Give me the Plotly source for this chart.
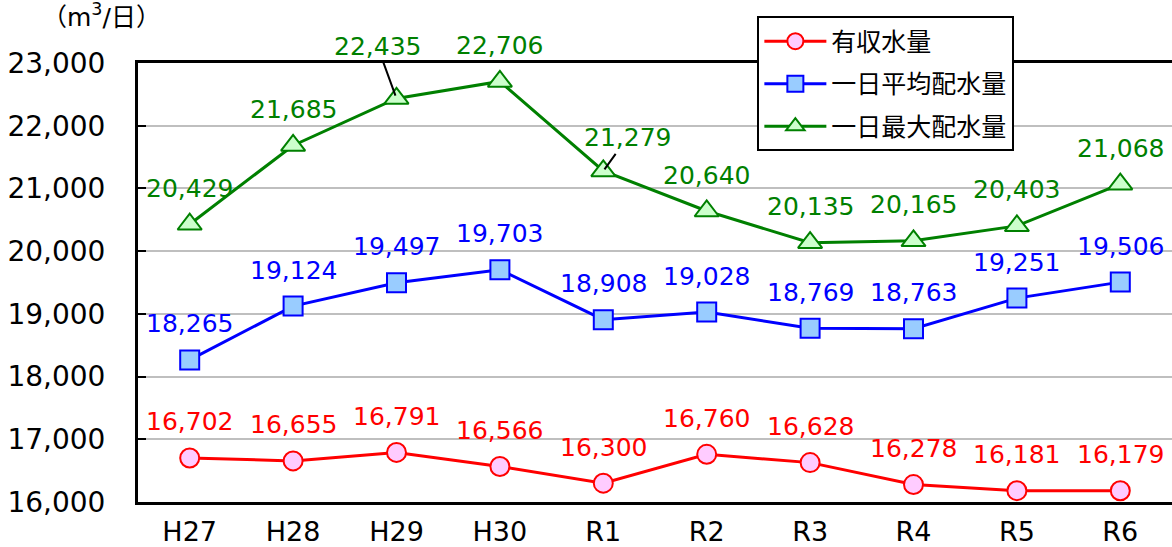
import plotly.graph_objects as go

years = ['H27', 'H28', 'H29', 'H30', 'R1', 'R2', 'R3', 'R4', 'R5', 'R6']
yushu = [16702, 16655, 16791, 16566, 16300, 16760, 16628, 16278, 16181, 16179]
heikin = [18265, 19124, 19497, 19703, 18908, 19028, 18769, 18763, 19251, 19506]
saidai = [20429, 21685, 22435, 22706, 21279, 20640, 20135, 20165, 20403, 21068]

FONT = 'DejaVu Sans, Noto Sans CJK JP'

series = [
    ('有収水量', yushu, '#FF0000', '#FFCCFF', 'circle', 19),
    ('一日平均配水量', heikin, '#0000FF', '#99CCFF', 'square', 19),
    ('一日最大配水量', saidai, '#008000', '#CCFFCC', 'triangle-up', 21),
]

fig = go.Figure()
annotations = []
for i, (name, vals, col, fill, sym, size) in enumerate(series):
    fig.add_trace(go.Scatter(
        x=years, y=vals, name=name, mode='lines+markers',
        line=dict(color=col, width=3),
        marker=dict(symbol=sym, size=size, color=fill, line=dict(color=col, width=2)),
        legendgroup=str(i),
    ))
    for x, v in zip(years, vals):
        a = dict(x=x, y=v, text=f'{v:,}', font=dict(family=FONT, size=25, color=col))
        # callout labels
        if name == '一日最大配水量' and x == 'H29':
            a.update(showarrow=True, arrowhead=0, arrowwidth=2, arrowcolor='black',
                     ax=-19, ay=-52, standoff=3)
        elif name == '一日最大配水量' and x == 'R1':
            a.update(showarrow=True, arrowhead=0, arrowwidth=2, arrowcolor='black',
                     ax=24, ay=-33, standoff=2)
        else:
            a.update(showarrow=False, yshift=36)
        annotations.append(a)

annotations.append(dict(xref='paper', yref='paper', x=-0.035, y=1.065, xanchor='center', yanchor='bottom',
                        text='（m<sup>3</sup>/日）', showarrow=False,
                        font=dict(family=FONT, size=25, color='black')))

fig.update_layout(
    width=1172, height=547,
    margin=dict(l=138, r=0, t=63, b=42),
    plot_bgcolor='white', paper_bgcolor='white',
    font=dict(family=FONT, color='black'),
    annotations=annotations,
    legend=dict(x=0.599, y=1.106, xanchor='left', yanchor='top',
                bgcolor='white', bordercolor='black', borderwidth=2,
                font=dict(family=FONT, size=25), itemwidth=62, tracegroupgap=7),
    showlegend=True,
)
fig.update_xaxes(range=[-0.5, 9.5], showline=True, linecolor='black', linewidth=3, mirror=True,
                 showgrid=False, ticks='', tickfont=dict(size=27), ticklabelstandoff=4)
fig.update_yaxes(range=[16000, 23000], dtick=1000, tickformat=',', showline=True, linecolor='black',
                 linewidth=3, showgrid=True, gridcolor='#BFBFBF', gridwidth=2,
                 ticks='inside', ticklen=8, tickcolor='black', tickwidth=2,
                 tickfont=dict(size=28), ticklabelstandoff=24)

fig.write_html('out.html', config={'displayModeBar': False},
               post_script="document.body.style.margin='0';")
